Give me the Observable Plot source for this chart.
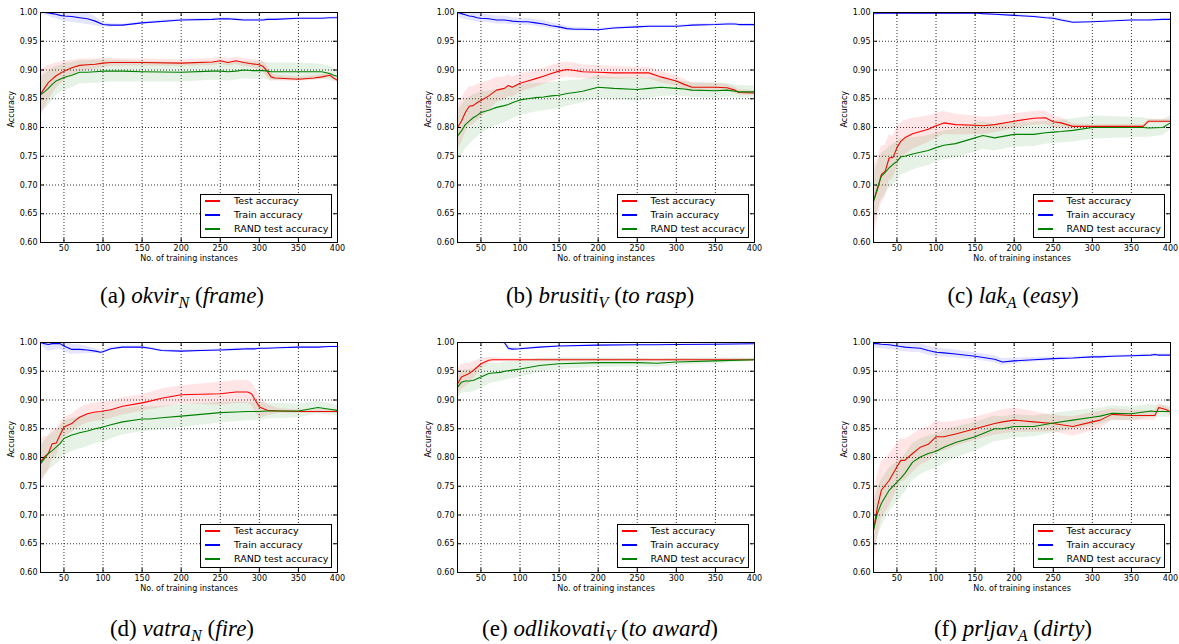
<!DOCTYPE html>
<html><head><meta charset="utf-8">
<script src="https://cdn.jsdelivr.net/npm/d3@7"></script>
<script src="https://cdn.jsdelivr.net/npm/@observablehq/plot@0.6"></script>
<style>
body{margin:0;background:#fff;}
#root{position:relative;width:1179px;height:644px;overflow:hidden;font-family:"DejaVu Sans",sans-serif;}
.panel{position:absolute;}
.legend{position:absolute;border:1px solid #000;background:#fff;box-sizing:border-box;font-size:9.5px;font-family:"DejaVu Sans",sans-serif;}
.legend .row{position:absolute;left:0;height:14px;line-height:14px;white-space:nowrap;}
.legend .sw{position:absolute;left:4px;top:6px;width:15px;height:2px;display:block;}
.legend .lb{position:absolute;left:33px;top:0;}
.cap{position:absolute;font-family:"Liberation Serif","Times New Roman",serif;font-size:23px;white-space:nowrap;transform:translateX(-50%);line-height:24px;height:24px;}
.cap sub{font-size:70%;vertical-align:-0.3em;font-style:italic;line-height:0;}
</style></head>
<body><div id="root"></div>
<script>
// ---------- shared axis values ----------
const xTicks = [50, 100, 150, 200, 250, 300, 350, 400];
const yTicks = [0.60, 0.65, 0.70, 0.75, 0.80, 0.85, 0.90, 0.95, 1.00];
const seriesNames = ["Test accuracy", "Train accuracy", "RAND test accuracy"];
const seriesColors = ["#ff0000", "#0000ff", "#008000"];

// ---------- (a) okvir ----------
const xA = [20,25,30,35,40,45,50,60,70,80,90,100,110,125,150,200,240,250,260,270,280,290,300,305,310,315,320,350,370,380,390,395,400];
const testA = [0.858,0.868,0.878,0.884,0.890,0.894,0.898,0.904,0.908,0.909,0.910,0.912,0.913,0.913,0.913,0.912,0.914,0.916,0.913,0.916,0.913,0.911,0.909,0.906,0.898,0.888,0.886,0.884,0.886,0.888,0.891,0.886,0.882];
const trainA = [1.000,1.000,0.999,0.998,0.997,0.995,0.994,0.993,0.991,0.989,0.985,0.979,0.978,0.978,0.982,0.987,0.988,0.989,0.989,0.988,0.987,0.987,0.987,0.987,0.988,0.988,0.988,0.990,0.990,0.990,0.991,0.991,0.991];
const randA = [0.857,0.862,0.868,0.875,0.881,0.884,0.887,0.891,0.896,0.896,0.897,0.898,0.898,0.898,0.897,0.896,0.898,0.898,0.897,0.898,0.900,0.899,0.899,0.899,0.898,0.897,0.897,0.897,0.897,0.897,0.894,0.891,0.889];
const testSdA = [0.042,0.036,0.030,0.026,0.022,0.019,0.017,0.013,0.011,0.010,0.009,0.008,0.007,0.006,0.006,0.006,0.006,0.006,0.006,0.006,0.007,0.007,0.008,0.009,0.010,0.008,0.005,0.004,0.004,0.004,0.004,0.003,0.003];
const trainSdA = [0.003,0.004,0.005,0.007,0.008,0.009,0.009,0.010,0.010,0.010,0.008,0.004,0.003,0.002,0.002,0.002,0.002,0.002,0.002,0.002,0.002,0.002,0.002,0.002,0.002,0.002,0.002,0.001,0.001,0.001,0.001,0.001,0.001];
const randSdA = [0.030,0.030,0.030,0.028,0.025,0.024,0.023,0.022,0.020,0.020,0.020,0.020,0.019,0.019,0.018,0.017,0.016,0.016,0.016,0.016,0.015,0.015,0.015,0.015,0.015,0.015,0.015,0.015,0.014,0.013,0.012,0.011,0.010];

// ---------- (b) brusiti ----------
const xB = [20,25,30,35,40,45,50,60,70,80,85,90,100,110,120,130,140,150,160,170,180,200,220,250,265,280,300,310,320,350,365,375,380,400];
const testB = [0.800,0.811,0.826,0.837,0.838,0.843,0.847,0.855,0.865,0.868,0.873,0.870,0.877,0.881,0.885,0.889,0.894,0.898,0.901,0.899,0.897,0.896,0.895,0.895,0.895,0.888,0.881,0.875,0.870,0.870,0.869,0.865,0.861,0.860];
const trainB = [1.000,0.998,0.996,0.994,0.993,0.991,0.990,0.989,0.987,0.987,0.986,0.985,0.984,0.984,0.982,0.980,0.977,0.975,0.972,0.971,0.971,0.970,0.973,0.975,0.976,0.976,0.976,0.977,0.978,0.979,0.980,0.980,0.979,0.979];
const randB = [0.785,0.794,0.805,0.811,0.817,0.821,0.826,0.830,0.835,0.838,0.840,0.843,0.848,0.850,0.852,0.853,0.855,0.856,0.859,0.861,0.863,0.870,0.868,0.866,0.868,0.870,0.868,0.867,0.865,0.864,0.865,0.863,0.862,0.862];
const testSdB = [0.040,0.038,0.036,0.034,0.033,0.032,0.030,0.026,0.022,0.020,0.019,0.018,0.016,0.015,0.015,0.014,0.014,0.014,0.013,0.013,0.012,0.012,0.011,0.010,0.010,0.010,0.009,0.009,0.008,0.007,0.006,0.005,0.005,0.004];
const trainSdB = [0.008,0.008,0.008,0.008,0.008,0.008,0.008,0.007,0.007,0.007,0.007,0.006,0.006,0.006,0.006,0.006,0.005,0.005,0.004,0.003,0.003,0.002,0.002,0.002,0.002,0.002,0.002,0.002,0.002,0.002,0.002,0.002,0.002,0.002];
const randSdB = [0.045,0.044,0.043,0.041,0.040,0.038,0.036,0.033,0.031,0.030,0.029,0.028,0.027,0.026,0.025,0.024,0.024,0.023,0.022,0.021,0.020,0.019,0.019,0.020,0.018,0.016,0.013,0.013,0.013,0.013,0.012,0.011,0.011,0.010];

// ---------- (c) lak ----------
const xC = [20,25,30,35,40,45,50,55,60,70,80,90,100,110,125,150,160,175,200,225,240,250,260,275,300,350,365,372,390,400];
const testC = [0.672,0.692,0.718,0.724,0.747,0.748,0.765,0.776,0.782,0.789,0.793,0.797,0.803,0.808,0.805,0.804,0.803,0.805,0.811,0.816,0.817,0.810,0.808,0.802,0.802,0.802,0.802,0.811,0.811,0.811];
const trainC = [0.999,0.999,0.999,0.999,0.999,0.999,0.999,0.999,0.999,0.999,0.999,0.999,0.999,0.999,0.999,0.999,0.998,0.997,0.995,0.993,0.991,0.990,0.987,0.983,0.984,0.987,0.987,0.987,0.988,0.988];
const randC = [0.672,0.695,0.715,0.722,0.730,0.736,0.741,0.749,0.750,0.754,0.757,0.760,0.765,0.769,0.772,0.782,0.786,0.782,0.788,0.788,0.791,0.792,0.793,0.795,0.800,0.800,0.800,0.799,0.800,0.808];
const testSdC = [0.060,0.055,0.050,0.045,0.040,0.037,0.035,0.032,0.030,0.027,0.025,0.023,0.022,0.020,0.018,0.016,0.015,0.014,0.013,0.012,0.012,0.011,0.009,0.005,0.003,0.003,0.003,0.003,0.003,0.003];
const trainSdC = [0.005,0.004,0.003,0.002,0.002,0.002,0.002,0.002,0.002,0.002,0.002,0.002,0.002,0.002,0.002,0.002,0.002,0.002,0.002,0.002,0.002,0.003,0.003,0.002,0.001,0.001,0.001,0.001,0.001,0.001];
const randSdC = [0.045,0.042,0.040,0.038,0.036,0.035,0.034,0.032,0.030,0.028,0.027,0.026,0.025,0.025,0.025,0.025,0.024,0.023,0.022,0.021,0.020,0.020,0.020,0.020,0.020,0.018,0.017,0.016,0.014,0.012];

// ---------- (d) vatra ----------
const xD = [20,25,30,35,40,45,50,60,65,70,80,90,97,100,110,125,150,160,175,200,225,250,270,285,290,295,300,310,325,350,375,390,400];
const testD = [0.792,0.801,0.807,0.824,0.825,0.839,0.853,0.859,0.865,0.870,0.876,0.879,0.880,0.881,0.883,0.889,0.895,0.898,0.903,0.909,0.910,0.911,0.914,0.914,0.911,0.899,0.888,0.882,0.881,0.880,0.880,0.880,0.880];
const trainD = [1.000,0.998,0.9965,0.998,0.998,0.998,0.994,0.988,0.988,0.988,0.987,0.985,0.983,0.984,0.989,0.992,0.992,0.990,0.986,0.985,0.986,0.987,0.988,0.989,0.989,0.989,0.990,0.990,0.991,0.992,0.992,0.993,0.993];
const randD = [0.789,0.798,0.807,0.812,0.818,0.824,0.833,0.839,0.841,0.843,0.846,0.850,0.852,0.853,0.857,0.862,0.867,0.867,0.869,0.872,0.875,0.878,0.879,0.880,0.880,0.880,0.880,0.881,0.881,0.881,0.887,0.884,0.882];
const testSdD = [0.040,0.035,0.030,0.027,0.024,0.020,0.017,0.016,0.016,0.016,0.016,0.016,0.016,0.016,0.015,0.015,0.014,0.015,0.016,0.016,0.018,0.020,0.020,0.020,0.020,0.020,0.020,0.010,0.004,0.003,0.003,0.003,0.003];
const trainSdD = [0.004,0.008,0.012,0.012,0.011,0.010,0.010,0.009,0.008,0.008,0.006,0.004,0.003,0.003,0.003,0.002,0.002,0.002,0.002,0.002,0.002,0.002,0.002,0.002,0.002,0.002,0.001,0.001,0.001,0.001,0.001,0.001,0.001];
const randSdD = [0.030,0.030,0.030,0.030,0.030,0.030,0.030,0.029,0.028,0.028,0.027,0.026,0.026,0.026,0.025,0.023,0.022,0.021,0.020,0.020,0.019,0.018,0.017,0.016,0.016,0.016,0.016,0.014,0.013,0.012,0.011,0.010,0.009];

// ---------- (e) odlikovati ----------
const xE = [20,25,30,35,40,45,50,55,60,65,75,80,85,90,100,125,150,200,250,275,300,350,400];
const testE = [0.928,0.940,0.943,0.946,0.951,0.957,0.963,0.966,0.969,0.970,0.970,0.970,0.970,0.970,0.970,0.970,0.970,0.970,0.970,0.970,0.970,0.970,0.970];
const trainE = [1.000,1.000,1.000,1.000,1.000,1.000,1.000,1.000,1.000,1.000,1.000,1.000,0.990,0.9885,0.989,0.992,0.994,0.9954,0.996,0.996,0.9965,0.997,0.9977];
const randE = [0.922,0.931,0.933,0.933,0.934,0.937,0.940,0.943,0.946,0.947,0.948,0.950,0.951,0.952,0.954,0.960,0.963,0.965,0.965,0.964,0.966,0.968,0.970];
const testSdE = [0.025,0.022,0.020,0.018,0.015,0.012,0.009,0.007,0.005,0.004,0.003,0.002,0.002,0.002,0.002,0.002,0.002,0.002,0.002,0.002,0.002,0.002,0.002];
const trainSdE = [0.002,0.002,0.002,0.002,0.002,0.002,0.002,0.002,0.002,0.002,0.002,0.003,0.004,0.003,0.002,0.001,0.001,0.001,0.001,0.001,0.001,0.001,0.001];
const randSdE = [0.020,0.020,0.020,0.020,0.020,0.020,0.020,0.019,0.018,0.017,0.016,0.016,0.015,0.015,0.014,0.012,0.010,0.008,0.007,0.007,0.006,0.005,0.003];

// ---------- (f) prljav ----------
const xF = [20,25,30,40,50,55,60,70,80,90,100,110,125,150,175,185,200,225,250,275,300,310,325,350,375,380,385,395,400];
const testF = [0.674,0.714,0.743,0.760,0.784,0.795,0.795,0.807,0.818,0.823,0.836,0.836,0.841,0.850,0.859,0.862,0.865,0.862,0.859,0.854,0.862,0.865,0.875,0.873,0.873,0.873,0.887,0.883,0.879];
const trainF = [0.998,0.998,0.997,0.996,0.994,0.993,0.992,0.991,0.990,0.986,0.983,0.982,0.980,0.976,0.971,0.966,0.968,0.970,0.972,0.973,0.975,0.975,0.976,0.977,0.978,0.979,0.978,0.978,0.978];
const randF = [0.674,0.703,0.720,0.743,0.757,0.764,0.772,0.792,0.801,0.807,0.811,0.818,0.826,0.836,0.850,0.850,0.854,0.854,0.860,0.865,0.870,0.872,0.877,0.876,0.881,0.880,0.880,0.880,0.880];
const testSdF = [0.060,0.055,0.050,0.045,0.040,0.038,0.036,0.033,0.031,0.030,0.028,0.025,0.022,0.020,0.020,0.021,0.021,0.018,0.014,0.017,0.016,0.015,0.010,0.009,0.008,0.008,0.007,0.006,0.005];
const trainSdF = [0.008,0.008,0.008,0.008,0.008,0.008,0.008,0.008,0.008,0.008,0.008,0.007,0.007,0.006,0.006,0.006,0.005,0.004,0.003,0.002,0.002,0.002,0.002,0.002,0.002,0.002,0.002,0.002,0.002];
const randSdF = [0.045,0.043,0.041,0.038,0.035,0.034,0.033,0.032,0.031,0.030,0.030,0.029,0.027,0.025,0.022,0.021,0.020,0.018,0.017,0.016,0.015,0.014,0.013,0.012,0.011,0.011,0.010,0.010,0.010];

// ---------- captions ----------
const captions = [
  {label: "(a)", word: "okvir", sub: "N", gloss: "frame"},
  {label: "(b)", word: "brusiti", sub: "V", gloss: "to rasp"},
  {label: "(c)", word: "lak", sub: "A", gloss: "easy"},
  {label: "(d)", word: "vatra", sub: "N", gloss: "fire"},
  {label: "(e)", word: "odlikovati", sub: "V", gloss: "to award"},
  {label: "(f)", word: "prljav", sub: "A", gloss: "dirty"}
];

const panels = [
  {x: xA, s: [testA, trainA, randA], sd: [testSdA, trainSdA, randSdA]},
  {x: xB, s: [testB, trainB, randB], sd: [testSdB, trainSdB, randSdB]},
  {x: xC, s: [testC, trainC, randC], sd: [testSdC, trainSdC, randSdC]},
  {x: xD, s: [testD, trainD, randD], sd: [testSdD, trainSdD, randSdD]},
  {x: xE, s: [testE, trainE, randE], sd: [testSdE, trainSdE, randSdE]},
  {x: xF, s: [testF, trainF, randF], sd: [testSdF, trainSdF, randSdF]}
];

// ---------- layout ----------
const W = 346, H = 272, mL = 40, mR = 9, mT = 12, mB = 30;
const plotW = W - mL - mR, plotH = H - mT - mB;
const colLeft = [0, 416.5, 832.5];
const rowTop = [0, 330];
const capCenter = [182, 600, 1013];
const capTop = [284, 617];

const root = document.getElementById("root");

panels.forEach((p, k) => {
  const col = k % 3, row = Math.floor(k / 3);
  const marks = [
    Plot.ruleX(xTicks, {x: d => d, stroke: "black", strokeWidth: 0.8, strokeDasharray: "1,2"}),
    Plot.ruleY(yTicks, {y: d => d, stroke: "black", strokeWidth: 0.8, strokeDasharray: "1,2"})
  ];
  for (let j = 0; j < 3; j++) {
    const rows = p.x.map((x, i) => ({x, y: p.s[j][i], lo: p.s[j][i] - p.sd[j][i], hi: p.s[j][i] + p.sd[j][i]}));
    marks.push(Plot.areaY(rows, {x: "x", y1: "lo", y2: "hi", fill: seriesColors[j], fillOpacity: 0.1, clip: true}));
    marks.push(Plot.line(rows, {x: "x", y: "y", stroke: seriesColors[j], strokeWidth: 1.1}));
  }
  marks.push(
    Plot.tickY(yTicks, {y: d => d, insetRight: plotW - 4, stroke: "black"}),
    Plot.tickY(yTicks, {y: d => d, insetLeft: plotW - 4, stroke: "black"}),
    Plot.tickX(xTicks, {x: d => d, insetTop: plotH - 4, stroke: "black"}),
    Plot.tickX(xTicks, {x: d => d, insetBottom: plotH - 4, stroke: "black"}),
    Plot.frame({stroke: "black", strokeWidth: 1}),
    Plot.text(["Accuracy"], {text: d => d, frameAnchor: "left", rotate: -90, dx: -29, fontSize: 8}),
    Plot.text(["No. of training instances"], {text: d => d, frameAnchor: "bottom", dy: 18, fontSize: 8})
  );
  const svg = Plot.plot({
    width: W, height: H, marginLeft: mL, marginRight: mR, marginTop: mT, marginBottom: mB,
    style: {fontFamily: "DejaVu Sans", fontSize: "8px", color: "black", background: "transparent"},
    x: {domain: [20, 400], ticks: xTicks, tickSize: 0, tickPadding: 3, tickFormat: d => String(d), label: null},
    y: {domain: [0.6, 1.0], ticks: yTicks, tickSize: 0, tickPadding: 3, tickFormat: d3.format(".2f"), label: null},
    marks
  });
  const div = document.createElement("div");
  div.className = "panel";
  div.style.left = colLeft[col] + "px";
  div.style.top = rowTop[row] + "px";
  div.style.width = W + "px";
  div.style.height = H + "px";
  div.appendChild(svg);

  // legend
  const lg = document.createElement("div");
  lg.className = "legend";
  lg.style.left = (mL + 160) + "px";
  lg.style.top = (mT + plotH - 4 - 44) + "px";
  lg.style.width = "132px";
  lg.style.height = "44px";
  seriesNames.forEach((name, j) => {
    const r = document.createElement("div");
    r.className = "row";
    r.style.top = (j * 14 - 1) + "px";
    const sw = document.createElement("span");
    sw.className = "sw";
    sw.style.backgroundColor = seriesColors[j];
    const lb = document.createElement("span");
    lb.className = "lb";
    lb.textContent = name;
    r.appendChild(sw);
    r.appendChild(lb);
    lg.appendChild(r);
  });
  div.appendChild(lg);
  root.appendChild(div);

  // caption
  const c = captions[k];
  const cap = document.createElement("div");
  cap.className = "cap";
  cap.style.left = capCenter[col] + "px";
  cap.style.top = capTop[row] + "px";
  cap.innerHTML = `${c.label} <i>${c.word}</i><sub>${c.sub}</sub> (<i>${c.gloss}</i>)`;
  root.appendChild(cap);
});
</script></body></html>
